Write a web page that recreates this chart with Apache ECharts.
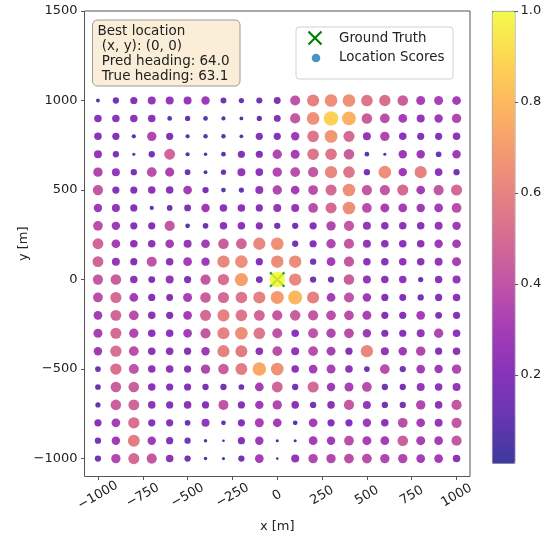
<!DOCTYPE html>
<html><head><meta charset="utf-8">
<script src="https://cdn.jsdelivr.net/npm/echarts@6/dist/echarts.min.js"></script>
<style>html,body{margin:0;padding:0;background:#fff}#c{width:552px;height:538px}</style>
</head><body><div id="c"></div>
<script>
// grid coordinates
const xs = [-1000,-900,-800,-700,-600,-500,-400,-300,-200,-100,0,100,200,300,400,500,600,700,800,900,1000];
const ys = [1000,900,800,700,600,500,400,300,200,100,0,-100,-200,-300,-400,-500,-600,-700,-800,-900,-1000];
// location scores, one row per y (x from -1000 to 1000)
const r1000 = [0.05,0.15,0.2,0.25,0.25,0.25,0.28,0.13,0.1,0.14,0.18, 0.4,0.6,0.65,0.66,0.55,0.52,0.45,0.32,0.32,0.3];
const r900  = [0.22,0.22,0.22,0.22,0.08,0.1,0.08,0.06,0.05,0.1,0.18, 0.42,0.66,0.88,0.78,0.45,0.38,0.3,0.25,0.28,0.35];
const r800  = [0.22,0.2,0.06,0.35,0.2,0.06,0.07,0.07,0.05,0.2,0.2, 0.28,0.55,0.68,0.5,0.25,0.35,0.22,0.2,0.2,0.22];
const r700  = [0.25,0.15,0.03,0.15,0.48,0.06,0.04,0.08,0.2,0.2,0.35, 0.32,0.55,0.55,0.45,0.08,0.03,0.28,0.28,0.12,0.28];
const r600  = [0.35,0.25,0.15,0.38,0.33,0.12,0.05,0.1,0.25,0.22,0.35, 0.38,0.42,0.62,0.55,0.15,0.65,0.28,0.6,0.22,0.15];
const r500  = [0.42,0.2,0.2,0.22,0.22,0.3,0.15,0.08,0.1,0.25,0.35, 0.3,0.38,0.5,0.65,0.42,0.42,0.5,0.3,0.42,0.5];
const r400  = [0.28,0.25,0.2,0.06,0.12,0.18,0.28,0.22,0.22,0.2,0.25, 0.25,0.38,0.5,0.65,0.38,0.32,0.3,0.28,0.3,0.38];
const r300  = [0.38,0.28,0.2,0.2,0.42,0.08,0.12,0.22,0.22,0.2,0.15, 0.15,0.2,0.35,0.42,0.25,0.22,0.22,0.22,0.25,0.28];
const r200  = [0.48,0.3,0.22,0.22,0.3,0.25,0.3,0.45,0.48,0.62,0.66, 0.15,0.2,0.35,0.42,0.25,0.22,0.22,0.22,0.28,0.3];
const r100  = [0.48,0.25,0.2,0.4,0.22,0.3,0.28,0.62,0.65,0.2,0.64, 0.64,0.15,0.3,0.42,0.22,0.22,0.22,0.22,0.25,0.32];
const r0    = [0.42,0.45,0.22,0.18,0.25,0.2,0.42,0.52,0.72,0.18,1.0, 0.62,0.15,0.15,0.45,0.25,0.22,0.22,0.1,0.22,0.25];
const rm100 = [0.38,0.5,0.3,0.2,0.18,0.32,0.45,0.5,0.55,0.6,0.7, 0.8,0.6,0.3,0.4,0.28,0.2,0.18,0.15,0.2,0.22];
const rm200 = [0.3,0.48,0.38,0.22,0.2,0.3,0.5,0.6,0.55,0.48,0.42, 0.45,0.42,0.38,0.38,0.32,0.2,0.2,0.3,0.18,0.2];
const rm300 = [0.32,0.5,0.35,0.22,0.22,0.3,0.42,0.6,0.65,0.55,0.4, 0.22,0.4,0.35,0.38,0.28,0.2,0.2,0.25,0.35,0.22];
const rm400 = [0.28,0.52,0.38,0.22,0.22,0.2,0.28,0.6,0.58,0.22,0.38, 0.25,0.38,0.32,0.2,0.62,0.25,0.28,0.35,0.2,0.22];
const rm500 = [0.12,0.52,0.4,0.22,0.22,0.2,0.35,0.45,0.58,0.75,0.66, 0.22,0.3,0.32,0.22,0.12,0.38,0.15,0.3,0.28,0.35];
const rm600 = [0.12,0.45,0.45,0.22,0.2,0.2,0.15,0.15,0.12,0.3,0.48, 0.15,0.5,0.28,0.32,0.38,0.15,0.15,0.25,0.22,0.25];
const rm700 = [0.1,0.45,0.48,0.22,0.2,0.22,0.2,0.4,0.2,0.28,0.35, 0.22,0.15,0.22,0.42,0.25,0.15,0.15,0.35,0.22,0.42];
const rm800 = [0.2,0.3,0.52,0.2,0.2,0.12,0.25,0.08,0.2,0.32,0.3, 0.08,0.3,0.2,0.2,0.28,0.22,0.38,0.3,0.25,0.42];
const rm900 = [0.15,0.28,0.58,0.28,0.2,0.15,0.04,0.02,0.2,0.28,0.03, 0.03,0.3,0.28,0.38,0.32,0.3,0.45,0.32,0.3,0.42];
const rm1000= [0.15,0.35,0.5,0.42,0.22,0.15,0.04,0.03,0.15,0.3,0.02, 0.25,0.35,0.35,0.38,0.38,0.35,0.35,0.3,0.3,0.22];
const scoreRows = [r1000,r900,r800,r700,r600,r500,r400,r300,r200,r100,r0,rm100,rm200,rm300,rm400,rm500,rm600,rm700,rm800,rm900,rm1000];
const groundTruth = [[0, 0]];
const xTicks = [-1000,-750,-500,-250,0,250,500,750,1000];
const yTicks = [-1000,-500,0,500,1000,1500];
const cbTicks = [0.2,0.4,0.6,0.8,1.0];
const scoreMin = 0.007, scoreMax = 1.0;
const annotationLines = ['Best location', ' (x, y): (0, 0)', ' Pred heading: 64.0', ' True heading: 63.1'];
const legendNames = ['Ground Truth', 'Location Scores'];

const plasma = ['#0d0887','#41049d','#6a00a8','#8f0da4','#b12a90','#cc4778','#e16462','#f2844b','#fca636','#fcce25','#f0f921'];
const ALPHA = 0.8;
// plasma blended on white at ALPHA, for the colour bar
const plasmaFaded = plasma.map(h => {
  const c = [1, 3, 5].map(k => parseInt(h.substr(k, 2), 16));
  return 'rgb(' + c.map(v => Math.round(v * ALPHA + 255 * (1 - ALPHA))).join(',') + ')';
});
const FONT = 'DejaVu Sans';
const XPATH = 'path://M0,10L10,0L50,40L90,0L100,10L60,50L100,90L90,100L50,60L10,100L0,90L40,50Z';

const points = [];
ys.forEach((y, j) => xs.forEach((x, i) => points.push([x, y, scoreRows[j][i]])));
const fmt = v => v < 0 ? '\u2212' + Math.abs(v) : String(v);

const chart = echarts.init(document.getElementById('c'), null, {renderer: 'canvas'});
chart.setOption({
  animation: false,
  textStyle: {fontFamily: FONT},
  grid: [
    {left: 84.5, right: 82, top: 11, bottom: 61.5, show: true, borderColor: '#555', borderWidth: 1, outerBoundsMode: 'none'},
    {left: 492, width: 22.5, top: 11, height: 455, outerBoundsMode: 'none'}
  ],
  xAxis: [
    {type: 'value', gridIndex: 0, min: -1075, max: 1075,
     splitLine: {show: false}, axisLine: {show: false, onZero: false},
     axisTick: {show: true, length: 3.5, customValues: xTicks, lineStyle: {color: '#555'}},
     axisLabel: {customValues: xTicks, formatter: fmt, rotate: 30, align: 'center', verticalAlign: 'middle', margin: 19, fontSize: 13, color: '#222'},
     name: 'x [m]', nameLocation: 'middle', nameGap: 44, nameTextStyle: {fontSize: 13, color: '#222'}},
    {type: 'value', gridIndex: 1, show: false, min: 0, max: 1}
  ],
  yAxis: [
    {type: 'value', gridIndex: 0, min: -1100, max: 1500,
     splitLine: {show: false}, axisLine: {show: false, onZero: false},
     axisTick: {show: true, length: 3.5, customValues: yTicks, lineStyle: {color: '#555'}},
     axisLabel: {customValues: yTicks, formatter: fmt, margin: 7, fontSize: 13, color: '#222'},
     name: 'y [m]', nameLocation: 'middle', nameGap: 54, nameRotate: 90, nameMoveOverlap: false,
     nameTextStyle: {fontSize: 13, color: '#222'}},
    {type: 'value', gridIndex: 1, position: 'right', min: 0, max: 1,
     splitLine: {show: false}, axisLine: {show: false, onZero: false},
     axisTick: {show: true, length: 3.5, customValues: cbTicks, lineStyle: {color: '#555'}},
     axisLabel: {customValues: cbTicks, formatter: v => v.toFixed(1), margin: 6, fontSize: 13, color: '#222'}}
  ],
  visualMap: [
    {type: 'continuous', min: scoreMin, max: scoreMax, dimension: 2, seriesIndex: 1,
     show: false, inRange: {color: plasma, opacity: [ALPHA, ALPHA]}},
    {type: 'continuous', min: scoreMin, max: scoreMax, dimension: 2, seriesIndex: 2,
     show: true, left: 492, top: 11, itemWidth: 22.5, itemHeight: 452, padding: 0,
     calculable: false, hoverLink: false, borderColor: '#666', borderWidth: 0.8,
     inRange: {color: plasmaFaded}}
  ],
  series: [
    {type: 'scatter', name: legendNames[0], xAxisIndex: 0, yAxisIndex: 0, data: groundTruth,
     symbol: XPATH, symbolSize: 16, itemStyle: {color: '#008000'}, z: 2, silent: true},
    {type: 'scatter', name: legendNames[1], xAxisIndex: 0, yAxisIndex: 0, data: points,
     symbolSize: v => 15 * Math.sqrt(v[2]) + 0.5, z: 3, silent: true},
    {type: 'scatter', name: 'colorbar', xAxisIndex: 1, yAxisIndex: 1, data: [], silent: true}
  ],
  graphic: [
    {type: 'rect', shape: {x: 92.5, y: 20, width: 147.5, height: 66, r: 5},
     style: {fill: 'rgba(245,222,179,0.5)', stroke: '#a09a90', lineWidth: 1}, z: 10},
    {type: 'text', x: 97.5, y: 23.5, z: 11,
     style: {text: annotationLines.join('\n'), font: '13.5px "DejaVu Sans"', lineHeight: 15, fill: '#222', verticalAlign: 'top'}},
    {type: 'rect', shape: {x: 296, y: 27, width: 157, height: 52, r: 3},
     style: {fill: 'rgba(255,255,255,0.8)', stroke: '#d0d0d0', lineWidth: 1}, z: 10},
    {type: 'line', shape: {x1: 308.5, y1: 31.5, x2: 321.5, y2: 44.5}, style: {stroke: '#008000', lineWidth: 2.2}, z: 11},
    {type: 'line', shape: {x1: 321.5, y1: 31.5, x2: 308.5, y2: 44.5}, style: {stroke: '#008000', lineWidth: 2.2}, z: 11},
    {type: 'circle', shape: {cx: 316, cy: 58, r: 4.3}, style: {fill: 'rgba(31,119,180,0.8)'}, z: 11},
    {type: 'text', x: 339, y: 38.3, z: 11, style: {text: legendNames[0], font: '13.4px "DejaVu Sans"', fill: '#222', verticalAlign: 'middle'}},
    {type: 'text', x: 339, y: 57.7, z: 11, style: {text: legendNames[1], font: '13.4px "DejaVu Sans"', fill: '#222', verticalAlign: 'middle'}}
  ]
});
</script></body></html>
